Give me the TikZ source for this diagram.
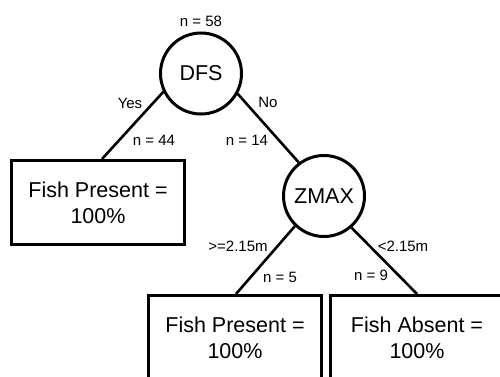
\documentclass[tikz,border=0pt]{standalone}
\usepackage{fontspec}
\setmainfont{Liberation Sans}
\begin{document}
\begin{tikzpicture}[x=1pt,y=-1pt,
  leaf/.style={draw, line width=3pt, minimum width=173pt, minimum height=84pt, inner sep=0pt, align=center, font=\fontsize{21.5}{26}\selectfont},
  split/.style={draw, circle, line width=3pt, minimum size=81pt, inner sep=0pt, font=\fontsize{21.5}{26}\selectfont},
  edge/.style={line width=2.6pt},
  lbl/.style={font=\fontsize{15}{18}\selectfont, inner sep=0pt}]
\useasboundingbox (0,0) rectangle (500,377);
\clip (0,0) rectangle (500,377);
\node[split] (dfs) at (201,73.5) {DFS};
\node[split] (zmax) at (324,196) {ZMAX};
\node[leaf] (p1) at (98,202.5) {Fish Present =\\100\%};
\node[leaf] (p2) at (235,337.5) {Fish Present =\\100\%};
\node[leaf] (a3) at (417,337.5) {Fish Absent =\\100\%};
\draw[edge] (dfs.206) -- ([xshift=4pt]p1.north);
\draw[edge] (dfs.331) -- (zmax.127);
\draw[edge] (zmax.226) -- ([xshift=1pt]p2.north);
\draw[edge] (zmax.311) -- (a3.north);
\node[lbl] (l58) at (201,21) {n = 58};
\node[lbl] (lyes) at (130,103) {Yes};
\node[lbl] (lno) at (268,102) {No};
\node[lbl] (l44) at (154,140) {n = 44};
\node[lbl] (l14) at (247,140) {n = 14};
\node[lbl] (lge) at (238,246) {>=2.15m};
\node[lbl] (llt) at (403,246) {<2.15m};
\node[lbl] (l5) at (280,277) {n = 5};
\node[lbl] (l9) at (371,275) {n = 9};
\end{tikzpicture}
\end{document}
